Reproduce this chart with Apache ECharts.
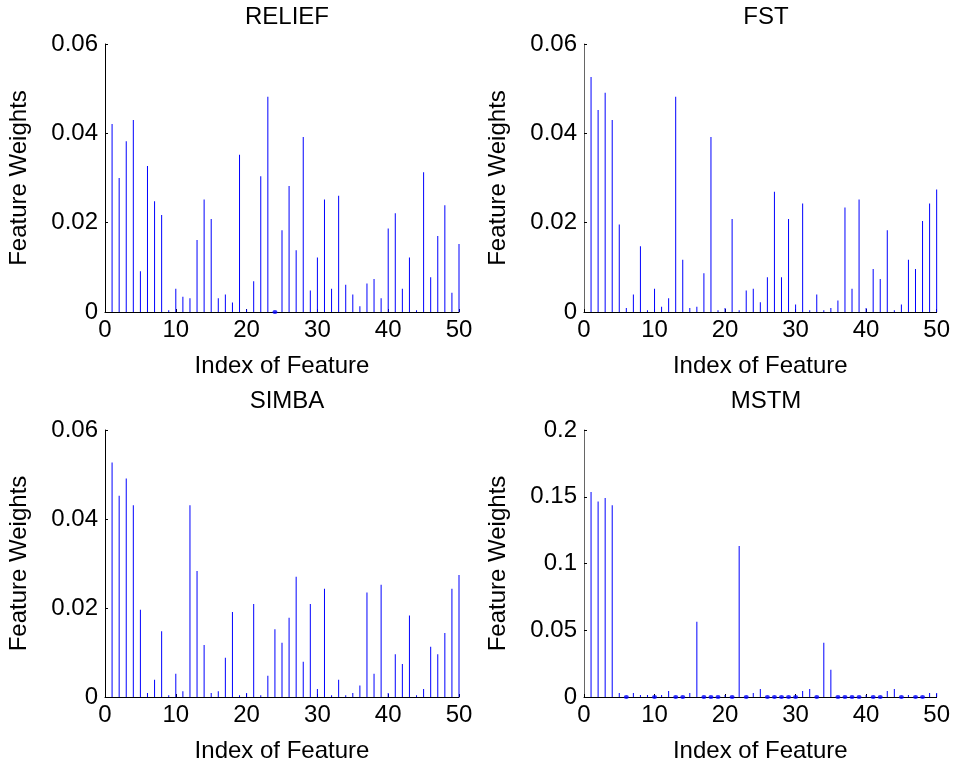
<!DOCTYPE html>
<html>
<head>
<meta charset="utf-8">
<script src="https://cdn.jsdelivr.net/npm/echarts@6/dist/echarts.min.js"></script>
<style>
html,body{margin:0;padding:0;background:#fff;}
#c{width:953px;height:765px;}
</style>
</head>
<body>
<div id="c"></div>
<script>
const featureIndex = [1,2,3,4,5,6,7,8,9,10,11,12,13,14,15,16,17,18,19,20,21,22,23,24,25,26,27,28,29,30,31,32,33,34,35,36,37,38,39,40,41,42,43,44,45,46,47,48,49,50];

const panelTitles = ['RELIEF', 'FST', 'SIMBA', 'MSTM'];

const reliefWeights = [0.0421,0.0300,0.0382,0.0430,0.0091,0.0327,0.0248,0.0217,0.0004,0.0052,
  0.0034,0.0031,0.0161,0.0252,0.0208,0.0031,0.0039,0.0021,0.0352,0.0006,
  0.0069,0.0304,0.0482,0,0.0183,0.0282,0.0138,0.0392,0.0048,0.0122,
  0.0252,0.0052,0.0260,0.0061,0.0039,0.0013,0.0064,0.0074,0.0031,0.0187,
  0.0221,0.0052,0.0122,0.0004,0.0313,0.0078,0.0170,0.0239,0.0043,0.0152];

const fstWeights = [0.0526,0.0452,0.0491,0.0430,0.0196,0.0009,0.0039,0.0147,0.0004,0.0052,
  0.0012,0.0031,0.0482,0.0117,0.0009,0.0012,0.0087,0.0392,0.0004,0.0009,
  0.0208,0.0004,0.0048,0.0052,0.0022,0.0078,0.0269,0.0078,0.0208,0.0017,
  0.0243,0.0004,0.0039,0.0004,0.0009,0.0026,0.0234,0.0052,0.0252,0.0009,
  0.0096,0.0074,0.0183,0.0004,0.0017,0.0117,0.0096,0.0204,0.0243,0.0274];

const simbaWeights = [0.0527,0.0452,0.0491,0.0431,0.0196,0.0009,0.0039,0.0148,0.0004,0.0052,
  0.0013,0.0431,0.0283,0.0117,0.0009,0.0013,0.0088,0.0191,0.0004,0.0009,
  0.0209,0.0004,0.0048,0.0152,0.0122,0.0178,0.0270,0.0079,0.0209,0.0018,
  0.0243,0.0004,0.0039,0.0004,0.0009,0.0026,0.0235,0.0052,0.0252,0.0009,
  0.0096,0.0074,0.0183,0.0004,0.0018,0.0113,0.0096,0.0144,0.0243,0.0274];

const mstmWeights = [0.1536,0.1464,0.1491,0.1437,0.0030,0,0.0030,0.0015,0.0015,0,
  0.0015,0.0045,0,0,0.0030,0.0564,0,0,0,0.0015,
  0,0.1132,0,0.0030,0.0060,0,0,0,0,0,
  0.0045,0.0060,0,0.0407,0.0205,0,0,0,0,0.0015,
  0,0,0.0045,0.0060,0,0.0015,0,0,0.0030,0.0030];

const yMaxes = [0.06, 0.06, 0.06, 0.2];
const yIntervals = [0.02, 0.02, 0.02, 0.05];
const xTickInterval = 10;
const xMax = 50;

const allWeights = [reliefWeights, fstWeights, simbaWeights, mstmWeights];

const FONT = "'Liberation Sans', Arial, Helvetica, sans-serif";
const FS = 24;

const grids = [
  {left:105, top:44, width:354, height:268},
  {left:584, top:44, width:354, height:268},
  {left:105, top:430, width:354, height:267},
  {left:584, top:430, width:354, height:267}
];

const titleCenters = [[282, 0], [761, 0], [282, 384], [761, 384]];

const leftAxisColors = ['#000', '#666', '#000', '#666'];

const option = {
  animation: false,
  backgroundColor: '#fff',
  textStyle: {fontFamily: FONT},
  title: panelTitles.map((t, i) => ({
    text: t,
    left: titleCenters[i][0],
    top: titleCenters[i][1],
    textAlign: 'center',
    textStyle: {fontFamily: FONT, fontSize: FS, fontWeight: 'normal', color: '#000'}
  })),
  grid: grids,
  xAxis: grids.map((g, i) => ({
    type: 'value', gridIndex: i, min: 0, max: xMax, interval: xTickInterval,
    name: 'Index of Feature', nameLocation: 'middle', nameGap: 42,
    nameTextStyle: {fontFamily: FONT, fontSize: FS, color: '#000'},
    axisLine: {show: true, onZero: false, lineStyle: {color: '#000', width: 1}},
    axisTick: {show: true, inside: true, length: 3, lineStyle: {color: '#000'}},
    axisLabel: {fontFamily: FONT, fontSize: FS, color: '#000', margin: 6},
    splitLine: {show: false}
  })),
  yAxis: grids.map((g, i) => ({
    type: 'value', gridIndex: i, min: 0, max: yMaxes[i], interval: yIntervals[i],
    name: 'Feature Weights', nameLocation: 'middle', nameGap: 74,
    nameTextStyle: {fontFamily: FONT, fontSize: FS, color: '#000'},
    axisLine: {show: true, lineStyle: {color: leftAxisColors[i], width: 1}},
    axisTick: {show: true, inside: true, length: 3, lineStyle: {color: '#000'}},
    axisLabel: {fontFamily: FONT, fontSize: FS, color: '#000', margin: 7},
    splitLine: {show: false}
  })),
  series: []
};

allWeights.forEach((w, i) => {
  option.series.push({
    type: 'bar', xAxisIndex: i, yAxisIndex: i,
    barWidth: 1,
    itemStyle: {color: '#0000ff'},
    data: featureIndex.map((x, k) => [x, w[k]])
  });
  const zeros = featureIndex.filter((x, k) => w[k] === 0).map(x => [x, 0]);
  option.series.push({
    type: 'scatter', xAxisIndex: i, yAxisIndex: i,
    symbol: 'circle', symbolSize: [5, 4], clip: false,
    itemStyle: {color: '#0000ff'},
    z: 5,
    data: zeros
  });
});

const chart = echarts.init(document.getElementById('c'), null, {renderer: 'canvas'});
chart.setOption(option);
</script>
</body>
</html>
